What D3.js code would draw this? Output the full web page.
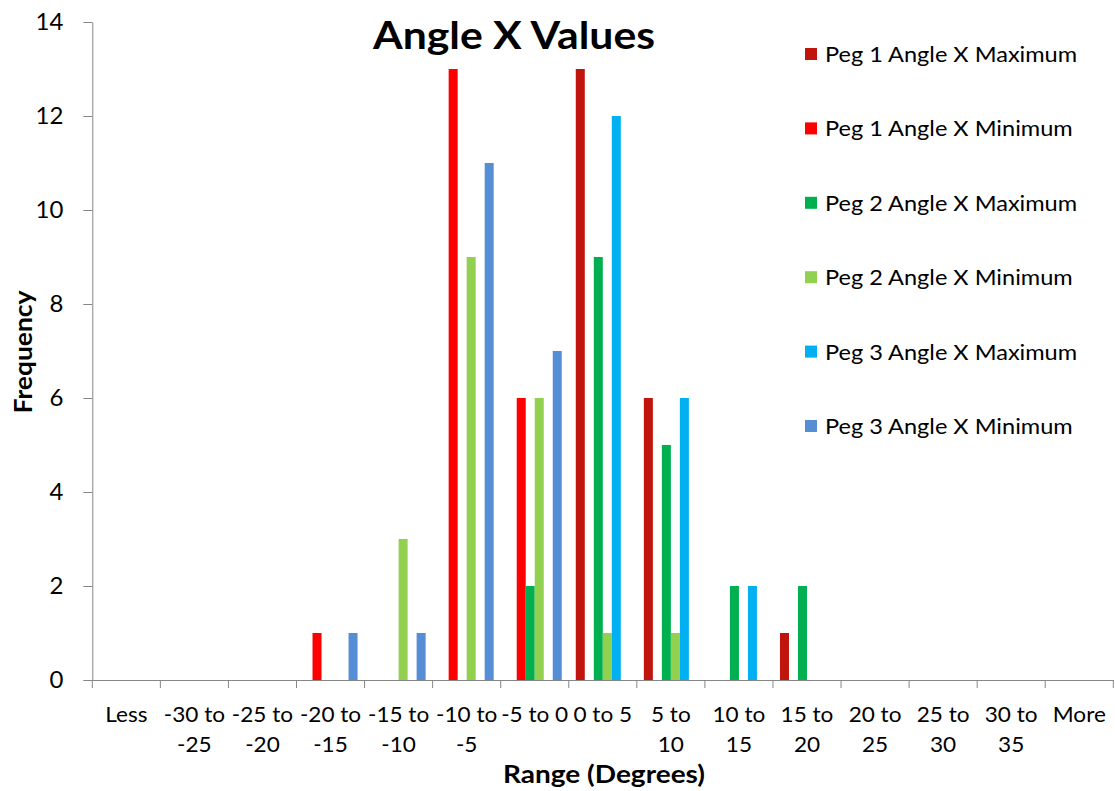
<!DOCTYPE html>
<html><head><meta charset="utf-8">
<script src="https://cdn.jsdelivr.net/npm/d3@7"></script>
<style>body{margin:0;background:#fff}svg{display:block}text{font-family:Lato,"Open Sans",sans-serif}</style>
</head><body><svg id="c" width="1115" height="791"></svg>
<script>
const categories = ["Less","-30 to -25","-25 to -20","-20 to -15","-15 to -10","-10 to -5","-5 to 0","0 to 5","5 to 10","10 to 15","15 to 20","20 to 25","25 to 30","30 to 35","More"];
const categoryLines = [["Less"],["-30 to","-25"],["-25 to","-20"],["-20 to","-15"],["-15 to","-10"],["-10 to","-5"],["-5 to 0"],["0 to 5"],["5 to","10"],["10 to","15"],["15 to","20"],["20 to","25"],["25 to","30"],["30 to","35"],["More"]];
const seriesNames = ["Peg 1 Angle X Maximum","Peg 1 Angle X Minimum","Peg 2 Angle X Maximum","Peg 2 Angle X Minimum","Peg 3 Angle X Maximum","Peg 3 Angle X Minimum"];
const seriesColors = ["#C0150D","#FF0000","#00B050","#92D050","#00B0F0","#558ED5"];
const peg1Max = [0,0,0,0,0,0,0,13,6,0,1,0,0,0,0];
const peg1Min = [0,0,0,1,0,13,6,0,0,0,0,0,0,0,0];
const peg2Max = [0,0,0,0,0,0,2,9,5,2,2,0,0,0,0];
const peg2Min = [0,0,0,0,3,9,6,1,1,0,0,0,0,0,0];
const peg3Max = [0,0,0,0,0,0,0,12,6,2,0,0,0,0,0];
const peg3Min = [0,0,0,1,1,11,7,0,0,0,0,0,0,0,0];
const yTicks = [0,2,4,6,8,10,12,14];
const seriesValues = [peg1Max,peg1Min,peg2Max,peg2Min,peg3Max,peg3Min];

(function(){
const svg = d3.select("#c");
const mLeft = 92.3, mRight = 1113.3, mTop = 22, mBottom = 680;
const x0 = d3.scaleBand().domain(categories).range([mLeft,mRight]).padding(0);
const x1 = d3.scaleBand().domain(seriesNames).range([x0.bandwidth()*0.103, x0.bandwidth()*0.897]).padding(0);
const y = d3.scaleLinear().domain([0,14]).range([mBottom,mTop]);
const axisColor = "#868686";
function stretch(sel,f){ sel.each(function(){ const L=this.getComputedTextLength(); d3.select(this).attr("textLength",L*f).attr("lengthAdjust","spacingAndGlyphs"); }); }

seriesNames.forEach((s,si)=>{
  svg.append("g").selectAll("rect").data(categories.map((c,ci)=>({c,v:seriesValues[si][ci]})).filter(d=>d.v>0))
    .join("rect")
    .attr("x",d=>x0(d.c)+x1(s))
    .attr("width",x1.bandwidth())
    .attr("y",d=>y(d.v))
    .attr("height",d=>y(0)-y(d.v))
    .attr("fill",seriesColors[si]);
});

const ya = svg.append("g").attr("transform",`translate(${mLeft},0)`)
  .call(d3.axisLeft(y).tickValues(yTicks).tickSize(9).tickPadding(20).tickSizeOuter(0));
ya.select(".domain").attr("stroke",axisColor);
ya.selectAll(".tick line").attr("stroke",axisColor);
ya.selectAll(".tick text").attr("font-size",24).attr("fill","#000").attr("font-family","Lato");

const xa = svg.append("g").attr("transform",`translate(0,${mBottom})`)
  .call(d3.axisBottom(x0).tickSize(0).tickFormat(""));
xa.select(".domain").attr("stroke",axisColor);
const tickPos = categories.map(c=>x0(c)).concat([mRight]);
svg.append("g").selectAll("line").data(tickPos).join("line")
  .attr("x1",d=>d).attr("x2",d=>d).attr("y1",mBottom).attr("y2",mBottom+8).attr("stroke",axisColor);
const xl = svg.append("g").selectAll("g").data(categories).join("g");
xl.each(function(c,i){
  const g=d3.select(this);
  categoryLines[i].forEach((ln,li)=>g.append("text").attr("x",x0(c)+x0.bandwidth()/2).attr("y",mBottom+42+li*30)
    .attr("text-anchor","middle").attr("font-size",21.5).attr("fill","#000").text(ln));
});
stretch(xl.selectAll("text"),1.05);

svg.append("text").attr("x",514).attr("y",49).attr("text-anchor","middle")
  .attr("font-size",38).attr("font-weight","bold").attr("textLength",282).attr("lengthAdjust","spacingAndGlyphs").text("Angle X Values");
svg.append("text").attr("x",604).attr("y",783).attr("text-anchor","middle")
  .attr("font-size",24).attr("font-weight","bold").attr("textLength",202).attr("lengthAdjust","spacingAndGlyphs").text("Range (Degrees)");
svg.append("text").attr("transform","translate(32,352) rotate(-90)").attr("text-anchor","middle")
  .attr("font-size",25).attr("font-weight","bold").attr("textLength",123).attr("lengthAdjust","spacingAndGlyphs").text("Frequency");

const lg = svg.append("g").selectAll("g").data(seriesNames).join("g")
  .attr("transform",(d,i)=>`translate(805,${54+i*74.4})`);
lg.append("rect").attr("x",0).attr("y",-6).attr("width",12).attr("height",12).attr("fill",(d,i)=>seriesColors[i]);
const lt = lg.append("text").attr("x",20).attr("y",8).attr("font-size",22).text(d=>d);
stretch(lt,1.07);
})();
</script></body></html>
